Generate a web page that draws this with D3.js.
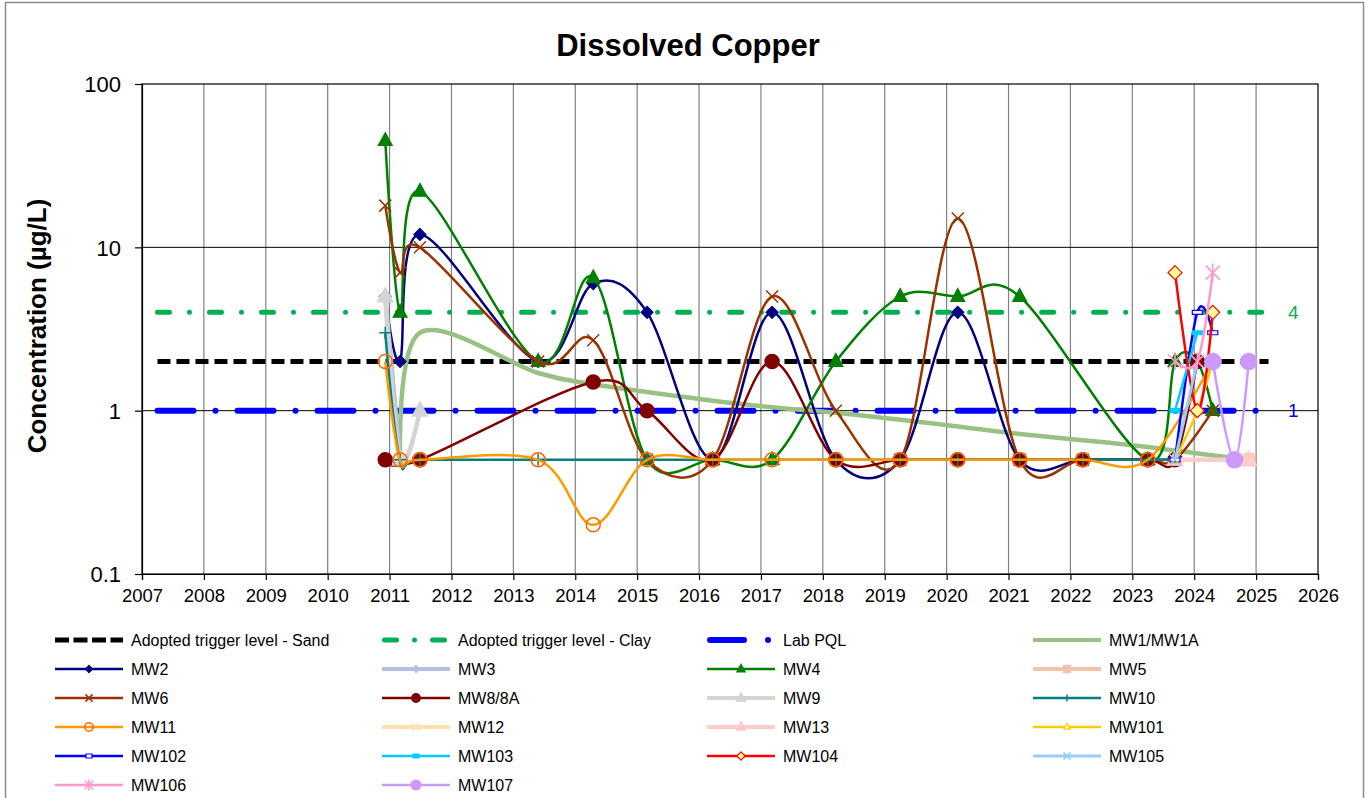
<!DOCTYPE html>
<html>
<head>
<meta charset="utf-8">
<script src="https://cdn.jsdelivr.net/npm/d3@7"></script>
<style>
  body { margin: 0; background: #fff; }
  text { font-family: "Liberation Sans", Arial, sans-serif; }
</style>
</head>
<body>
<div id="chart"></div>
<script>
// sampling dates (decimal years)
const dates = [2010.93, 2011.17, 2011.49, 2013.40, 2014.29, 2015.16, 2016.22, 2017.18, 2018.21, 2019.25,
               2020.18, 2021.18, 2022.20, 2023.25, 2023.69, 2024.05, 2024.30, 2024.65, 2024.88];

// concentrations (ug/L), one slot per date, null = not sampled
const mw1   = [null, 0.5, 3, 1.7, 1.45, 1.3, 1.15, 1.05, 0.97, 0.88, 0.8, 0.72, 0.66, 0.6, 0.57, null, null, null, 0.5];
const mw2   = [5, 2, 12, 2, 6, 4, 0.5, 4, 0.5, 0.5, 4, 0.5, 0.5, 0.5, 0.5, null, null, null, null];
const mw3   = [5, 0.5, null, null, null, null, null, null, null, null, null, null, null, null, null, null, null, null, null];
const mw4   = [45, 4, 22, 2, 6.5, 0.5, 0.5, 0.5, 2, 5, 5, 5, null, 0.5, 2, 2, 1, null, null];
const mw5   = [null, null, null, null, null, null, null, null, null, null, null, null, null, null, null, null, null, 0.5, 0.5];
const mw6   = [18, 7, 10, 2, 2.7, 0.5, 0.5, 5, 1, 0.5, 15, 0.5, 0.5, 0.5, 0.5, null, 1, null, null];
const mw8   = [0.5, null, 0.5, null, 1.5, 1, 0.5, 2, 0.5, 0.5, 0.5, 0.5, 0.5, 0.5, 0.5, 2, null, null, null];
const mw9   = [5, 0.5, 1, null, null, null, null, null, null, null, null, null, null, null, null, null, null, null, null];
const mw10  = [3, 0.5, 0.5, 0.5, null, 0.5, 0.5, 0.5, 0.5, 0.5, 0.5, 0.5, 0.5, 0.5, 0.5, null, null, null, null];
const mw11  = [2, 0.5, 0.5, 0.5, 0.2, 0.5, 0.5, 0.5, 0.5, 0.5, 0.5, 0.5, 0.5, 0.5, null, null, 2, null, null];
const mw12  = [null, null, null, null, null, null, null, null, null, null, null, null, null, null, null, null, null, null, 0.5];
const mw13  = [null, null, null, null, null, null, null, null, null, null, null, null, null, null, 0.5, null, null, null, 0.5];
const mw101 = [null, null, null, null, null, null, null, null, null, null, null, null, null, null, 0.5, 1, 2, null, null];
const mw102 = [null, null, null, null, null, null, null, null, null, null, null, null, null, null, 0.5, 4, 3, null, null];
const mw103 = [null, null, null, null, null, null, null, null, null, null, null, null, null, null, 1, 3, null, null, null];
const mw104 = [null, null, null, null, null, null, null, null, null, null, null, null, null, null, 7, 1, 4, null, null];
const mw105 = [null, null, null, null, null, null, null, null, null, null, null, null, null, null, 0.5, 2, null, null, null];
const mw106 = [null, null, null, null, null, null, null, null, null, null, null, null, null, null, 2, 2, 7, null, null];
const mw107 = [null, null, null, null, null, null, null, null, null, null, null, null, null, null, null, null, 2, 0.5, 2];

// reference levels
const sandTrigger = 2;
const clayTrigger = 4;
const labPQL = 1;
const refSpan = [2007.25, 2025.2];

const xTicks = d3.range(2007, 2027);
const yTicks = [0.1, 1, 10, 100];

const series = [
  {name: "MW1/MW1A", values: mw1,   color: "#99c183", width: 4.5, marker: null},
  {name: "MW2",      values: mw2,   color: "#000080", width: 2.5, marker: "diamond", r: 6, fill: "#000080"},
  {name: "MW3",      values: mw3,   color: "#b4bfe2", width: 4.5, marker: "diamond", r: 6, fill: "#b4bfe2"},
  {name: "MW4",      values: mw4,   color: "#008000", width: 2.5, marker: "triangle", r: 8, fill: "#008000"},
  {name: "MW5",      values: mw5,   color: "#f5c2ae", width: 4.5, marker: "square", r: 6, fill: "#f5c2ae"},
  {name: "MW6",      values: mw6,   color: "#993300", width: 2.5, marker: "x", r: 6, fill: "none"},
  {name: "MW8/8A",   values: mw8,   color: "#800000", width: 2.5, marker: "circle", r: 7, fill: "#800000"},
  {name: "MW9",      values: mw9,   color: "#d4d4d4", width: 4.5, marker: "triangle", r: 9, fill: "#d4d4d4"},
  {name: "MW10",     values: mw10,  color: "#008080", width: 2.5, marker: "plus", r: 6, fill: "none"},
  {name: "MW11",     values: mw11,  color: "#ff9900", width: 2.5, marker: "circle", r: 7, fill: "none", stroke: "#ff6600"},
  {name: "MW12",     values: mw12,  color: "#ffdeb0", width: 4.5, marker: "x", r: 6, fill: "none"},
  {name: "MW13",     values: mw13,  color: "#ffcccc", width: 4.5, marker: "triangle", r: 9, fill: "#ffcccc"},
  {name: "MW101",    values: mw101, color: "#ffcc00", width: 2.5, marker: "triangle", r: 6, fill: "#fff", stroke: "#ffcc00"},
  {name: "MW102",    values: mw102, color: "#0000ff", width: 2.5, marker: "dash", r: 5, fill: "#fff", stroke: "#0000ff"},
  {name: "MW103",    values: mw103, color: "#00ccff", width: 2.5, marker: "dash", r: 5, fill: "#00ccff"},
  {name: "MW104",    values: mw104, color: "#ff0000", width: 2.5, marker: "diamond", r: 7, fill: "#ffff99", stroke: "#ff0000"},
  {name: "MW105",    values: mw105, color: "#99ccff", width: 3, marker: "x", r: 6, fill: "none"},
  {name: "MW106",    values: mw106, color: "#ff99cc", width: 2.5, marker: "star", r: 7, fill: "none"},
  {name: "MW107",    values: mw107, color: "#cc99ff", width: 2.5, marker: "circle", r: 8, fill: "#cc99ff"}
];

const W = 1370, H = 798;
const margin = {top: 84, left: 142, right: 52, bottom: 224};
const width = W - margin.left - margin.right;
const height = H - margin.top - margin.bottom;

const svg = d3.select("#chart").append("svg")
  .attr("width", W).attr("height", H);

// outer chart border
svg.append("rect")
  .attr("x", 5.5).attr("y", 2.5).attr("width", 1358).attr("height", 800)
  .attr("fill", "none").attr("stroke", "#8c8c8c").attr("stroke-width", 1.5);

svg.append("text")
  .attr("x", 688).attr("y", 56)
  .attr("text-anchor", "middle")
  .attr("font-size", 31).attr("font-weight", "bold")
  .text("Dissolved Copper");

const g = svg.append("g").attr("transform", `translate(${margin.left},${margin.top})`);

const x = d3.scaleLinear().domain([2007, 2026]).range([0, width]);
const y = d3.scaleLog().domain([0.1, 100]).range([height, 0]);

// grid
g.append("g").selectAll("line").data(xTicks.slice(1, -1)).join("line")
  .attr("x1", d => x(d)).attr("x2", d => x(d))
  .attr("y1", 0).attr("y2", height)
  .attr("stroke", "#808080").attr("stroke-width", 1.2);
g.append("g").selectAll("line").data([1, 10]).join("line")
  .attr("x1", 0).attr("x2", width)
  .attr("y1", d => y(d)).attr("y2", d => y(d))
  .attr("stroke", "#000").attr("stroke-width", 1);
g.append("rect").attr("width", width).attr("height", height)
  .attr("fill", "none").attr("stroke", "#000").attr("stroke-width", 1.2);

// axes
const xAxis = g.append("g").attr("transform", `translate(0,${height})`)
  .call(d3.axisBottom(x).tickValues(xTicks).tickFormat(d3.format("d")).tickSize(6).tickPadding(9));
const yAxis = g.append("g")
  .call(d3.axisLeft(y).tickValues(yTicks).tickFormat(d => d3.format("~g")(d)).tickSize(7).tickPadding(14));
[xAxis, yAxis].forEach(a => {
  a.selectAll("line, path").attr("stroke", "#000").attr("stroke-width", 1.2);
  a.selectAll("text").attr("fill", "#000")
    .attr("font-family", "Liberation Sans, Arial, sans-serif");
});
xAxis.selectAll("text").attr("font-size", 18.5);
yAxis.selectAll("text").attr("font-size", 22).attr("dy", "0.35em");

svg.append("text")
  .attr("transform", "translate(46,326) rotate(-90)")
  .attr("text-anchor", "middle")
  .attr("font-size", 26).attr("font-weight", "bold")
  .text("Concentration (µg/L)");

// reference lines
const refs = [
  {name: "Adopted trigger level - Sand", value: sandTrigger, color: "#000", width: 5, dash: "13,6", cap: "butt",
   legendDash: "14,4.5", legendStart: 0},
  {name: "Adopted trigger level - Clay", value: clayTrigger, color: "#00b050", width: 5, dash: "12,20,0.01,20", cap: "round",
   legendDash: "12,18,0.01,18", legendStart: 2.5},
  {name: "Lab PQL", value: labPQL, color: "#0000ff", width: 6, dash: "36,22,0.01,22", cap: "round",
   legendDash: "34,24,0.01,40", legendStart: 3}
];
refs.forEach(r => {
  g.append("line")
    .attr("x1", x(refSpan[0])).attr("x2", x(refSpan[1]))
    .attr("y1", y(r.value)).attr("y2", y(r.value))
    .attr("stroke", r.color).attr("stroke-width", r.width)
    .attr("stroke-dasharray", r.dash).attr("stroke-linecap", r.cap);
});
g.append("text").attr("x", x(2025.6)).attr("y", y(clayTrigger)).attr("dy", "0.35em")
  .attr("text-anchor", "middle").attr("font-size", 19).attr("fill", "#00b050").text(clayTrigger);
g.append("text").attr("x", x(2025.6)).attr("y", y(labPQL)).attr("dy", "0.35em")
  .attr("text-anchor", "middle").attr("font-size", 19).attr("fill", "#0000ff").text(labPQL);

function markerPath(type, r) {
  switch (type) {
    case "diamond": return `M0,${-r}L${r},0L0,${r}L${-r},0Z`;
    case "triangle": return `M0,${-r}L${r * 0.87},${r * 0.6}L${-r * 0.87},${r * 0.6}Z`;
    case "square": return `M${-r},${-r}H${r}V${r}H${-r}Z`;
    case "x": return `M${-r},${-r}L${r},${r}M${-r},${r}L${r},${-r}`;
    case "plus": return `M0,${-r}V${r}M${-r},0H${r}`;
    case "star": return `M${-r},${-r}L${r},${r}M${-r},${r}L${r},${-r}M0,${-r * 1.3}V${r * 1.3}`;
    case "dash": return `M${-r},-2H${r}V2H${-r}Z`;
  }
  return null;
}

function drawMarker(sel, s) {
  if (!s.marker) return;
  if (s.marker === "circle") {
    sel.append("circle").attr("r", s.r)
      .attr("fill", s.fill === "none" ? "#fff" : s.fill)
      .attr("fill-opacity", s.fill === "none" ? 0 : 1)
      .attr("stroke", s.stroke || s.color).attr("stroke-width", 1.5);
  } else {
    const open = ["x", "plus", "star"].includes(s.marker);
    sel.append("path").attr("d", markerPath(s.marker, s.r))
      .attr("fill", open ? "none" : s.fill)
      .attr("stroke", s.stroke || s.color)
      .attr("stroke-width", open ? 1.5 : 1.2);
  }
}

const line = d3.line()
  .x(d => x(d.date)).y(d => y(d.value))
  .curve(d3.curveCardinal.tension(0));

series.forEach(s => {
  const pts = dates.map((d, i) => ({date: d, value: s.values[i]})).filter(p => p.value != null);
  const sg = g.append("g");
  sg.append("path").datum(pts)
    .attr("d", line).attr("fill", "none")
    .attr("stroke", s.color).attr("stroke-width", s.width)
    .attr("stroke-linejoin", "round");
  sg.selectAll(".m").data(pts).join("g")
    .attr("class", "m")
    .attr("transform", p => `translate(${x(p.date)},${y(p.value)})`)
    .each(function() { drawMarker(d3.select(this), s); });
});

// legend
const legendItems = refs.map(r => ({ref: r, name: r.name})).concat(series.map(s => ({s: s, name: s.name})));
const colX = [55, 382, 707, 1033];
const rowY = 640, rowH = 29, sampleLen = 68;
const lg = svg.append("g");
legendItems.forEach((it, i) => {
  const lx = colX[i % 4], ly = rowY + Math.floor(i / 4) * rowH;
  const item = lg.append("g").attr("transform", `translate(${lx},${ly})`);
  if (it.ref) {
    const r = it.ref;
    item.append("line").attr("x1", r.legendStart).attr("x2", sampleLen).attr("y1", 0).attr("y2", 0)
      .attr("stroke", r.color).attr("stroke-width", r.width)
      .attr("stroke-dasharray", r.legendDash).attr("stroke-linecap", r.cap);
  } else {
    const s = it.s;
    item.append("line").attr("x1", 0).attr("x2", sampleLen).attr("y1", 0).attr("y2", 0)
      .attr("stroke", s.color).attr("stroke-width", Math.min(s.width, 4));
    const m = item.append("g").attr("transform", `translate(${sampleLen / 2},0)`);
    drawMarker(m, Object.assign({}, s, {r: Math.max(3, s.r * 0.6)}));
  }
  item.append("text").attr("x", 76).attr("y", 0).attr("dy", "0.35em")
    .attr("font-size", 16).attr("fill", "#000").text(it.name);
});
</script>
</body>
</html>
